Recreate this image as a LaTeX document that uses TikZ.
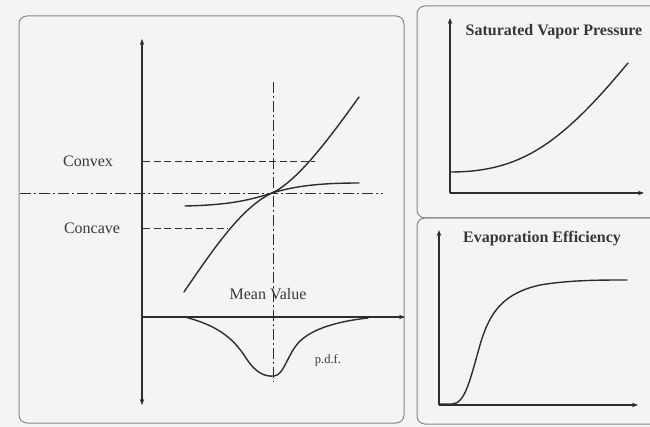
\documentclass[tikz,border=0pt]{standalone}
\usepackage{fontspec}
\setmainfont{Liberation Serif}
\usetikzlibrary{arrows.meta}
\definecolor{bg}{RGB}{245,243,246}
\definecolor{frame}{RGB}{135,135,138}
\definecolor{ink}{RGB}{45,45,48}
\definecolor{txt}{RGB}{55,55,58}
\tikzset{
  panel/.style={draw=frame, line width=1pt, rounded corners=8pt},
  axis/.style={draw=ink, line width=1.1pt},
  arr/.style={-{Stealth[length=6pt,width=4.5pt]}},
  curve/.style={draw=ink, line width=1.4pt, line cap=round},
  dashline/.style={draw=ink, line width=0.9pt, dash pattern=on 7pt off 3.5pt},
  dashdot/.style={draw=ink, line width=0.8pt, dash pattern=on 11pt off 3pt on 2pt off 3pt},
  lbl/.style={text=txt, font=\fontsize{16}{18}\selectfont, inner sep=0pt},
  ttl/.style={text=txt, font=\fontsize{16}{18}\selectfont\bfseries, inner sep=0pt},
}
\begin{document}
\begin{tikzpicture}[x=1pt,y=-1pt]
\useasboundingbox (0,0) rectangle (650,427);
\clip (0,0) rectangle (650,427);
\fill[bg] (0,0) rectangle (650,427);
% panels
\draw[panel] (19,16) rectangle (404,423);
\draw[panel] (417,6) rectangle (668,218);
\draw[panel] (417,218) rectangle (668,424);
% ---- left panel ----
\coordinate (vb) at (142,405);
\coordinate (vt) at (142,39);
\coordinate (o) at (142,317);
\coordinate (hx) at (405,317);
\draw[axis,arr] (o) -- (vt);
\draw[axis,arr] (o) -- (vb);
\draw[axis,arr] (o) -- (hx);
\coordinate (hl) at (20,193);
\coordinate (hr) at (383,193);
\coordinate (mt) at (273,82);
\coordinate (mb) at (273,382);
\draw[dashdot] (hl) -- (hr);
\draw[dashdot] (mt) -- (mb);
\coordinate (cx1) at (143,161);
\coordinate (cx2) at (315,161);
\coordinate (cc1) at (143,228);
\coordinate (cc2) at (228,228);
\draw[dashline] (cx1) -- (cx2);
\draw[dashline] (cc1) -- (cc2);
\node[lbl] (convex) at (88,161) {Convex};
\node[lbl] (concave) at (92,228) {Concave};
\node[lbl] (mean) at (268,294) {Mean Value};
\node[text=txt, font=\fontsize{12.5}{14}\selectfont, inner sep=0pt] (pdf) at (328,360) {p.d.f.};
% steep curve
\draw[curve] (184,292) .. controls (214,248) and (242,207) .. (272,193)
  .. controls (298,181) and (331,136) .. (359,97);
% flat curve
\draw[curve] (185,206) .. controls (230,205) and (250,200) .. (272,193)
  .. controls (295,186) and (320,183) .. (359,183);
% pdf curve
\draw[curve] (185,317) .. controls (215,325) and (232,336) .. (246,358)
  .. controls (255,372) and (264,377) .. (274,376)
  .. controls (283,375) and (286,360) .. (295,347)
  .. controls (306,331) and (332,322) .. (368,318);
% ---- top right panel ----
\coordinate (a1o) at (450,193);
\coordinate (a1t) at (450,18);
\coordinate (a1r) at (644,193);
\draw[axis,arr] (a1o) -- (a1t);
\draw[axis,arr] (a1o) -- (a1r);
\node[ttl] (svp) at (554,32) {Saturated Vapor Pressure};
\draw[curve] (450,172) .. controls (520,172) and (560,145) .. (628,63);
% ---- bottom right panel ----
\coordinate (a2o) at (439,405);
\coordinate (a2t) at (439,230);
\coordinate (a2r) at (638,405);
\draw[axis,arr] (a2o) -- (a2t);
\draw[axis,arr] (a2o) -- (a2r);
\node[ttl] (evap) at (542,239) {Evaporation Efficiency};
\draw[curve] (440,404) -- (452,404) .. controls (465,404) and (470,380) .. (480,345)
  .. controls (490,310) and (505,293) .. (540,285)
  .. controls (570,280) and (600,280) .. (627,280);
\end{tikzpicture}
\end{document}
